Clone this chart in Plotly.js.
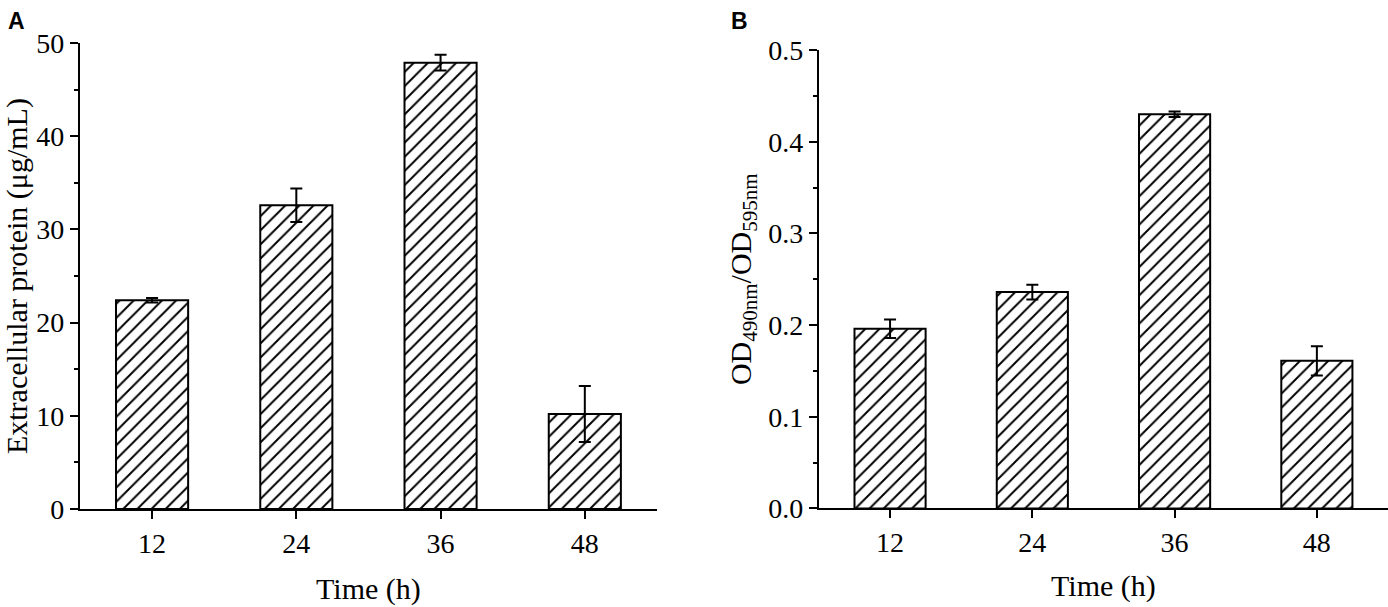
<!DOCTYPE html>
<html>
<head>
<meta charset="utf-8">
<script src="https://cdn.plot.ly/plotly-3.0.1.min.js"></script>
<style>
  html, body { margin: 0; padding: 0; background: #fff; }
  #chart { width: 1388px; height: 607px; }
</style>
</head>
<body>
<div id="chart"></div>
<script>
var times = ['12', '24', '36', '48'];

// panel A: extracellular protein (ug/mL)
var proteinVals = [22.4, 32.6, 47.9, 10.2];
var proteinErr = [0.25, 1.8, 0.85, 3.0];

// panel B: OD490/OD595
var odVals = [0.196, 0.236, 0.430, 0.161];
var odErr = [0.010, 0.008, 0.003, 0.016];

var serif = '"Liberation Serif", "Times New Roman", serif';

var hatch = {
    shape: '/',
    fgcolor: '#000',
    bgcolor: '#fff',
    size: 10,
    solidity: 0.2
};

var trace1 = {
    x: times,
    y: proteinVals,
    type: 'bar',
    width: 0.5,
    xaxis: 'x',
    yaxis: 'y',
    marker: {
        color: '#fff',
        pattern: hatch,
        line: { color: '#000', width: 2 }
    },
    error_y: {
        type: 'data',
        array: proteinErr,
        visible: true,
        color: '#000',
        thickness: 2,
        width: 6
    }
};

var trace2 = {
    x: times,
    y: odVals,
    type: 'bar',
    width: 0.5,
    xaxis: 'x2',
    yaxis: 'y2',
    marker: {
        color: '#fff',
        pattern: hatch,
        line: { color: '#000', width: 2 }
    },
    error_y: {
        type: 'data',
        array: odErr,
        visible: true,
        color: '#000',
        thickness: 2,
        width: 6
    }
};

var xCommon = {
    type: 'category',
    range: [-0.5, 3.5],
    showline: true,
    linecolor: '#000',
    linewidth: 2,
    ticks: 'outside',
    ticklen: 8,
    tickwidth: 2,
    tickcolor: '#000',
    showgrid: false,
    zeroline: false,
    tickfont: { family: serif, size: 28, color: '#000' },
    fixedrange: true
};

var yCommon = {
    showline: true,
    linecolor: '#000',
    linewidth: 2,
    ticks: 'outside',
    ticklen: 8,
    tickwidth: 2,
    tickcolor: '#000',
    showgrid: false,
    zeroline: false,
    tickfont: { family: serif, size: 28, color: '#000' },
    fixedrange: true
};

var layout = {
    width: 1388,
    height: 607,
    margin: { l: 0, r: 0, t: 0, b: 0 },
    paper_bgcolor: '#fff',
    plot_bgcolor: '#fff',
    showlegend: false,
    font: { family: serif, size: 28, color: '#000' },
    xaxis: Object.assign({}, xCommon, {
        domain: [0.0576, 0.4733],
        anchor: 'y',
        title: { text: 'Time (h)', standoff: 20, font: { family: serif, size: 30 } }
    }),
    yaxis: Object.assign({}, yCommon, {
        domain: [0.1614, 0.929],
        anchor: 'x',
        range: [0, 50],
        dtick: 10,
        minor: { dtick: 5, ticks: 'outside', ticklen: 4, tickwidth: 2, tickcolor: '#000', showgrid: false },
        title: { text: 'Extracellular protein (μg/mL)', standoff: 8, font: { family: serif, size: 30 } }
    }),
    xaxis2: Object.assign({}, xCommon, {
        domain: [0.590, 1.0],
        anchor: 'y2',
        title: { text: 'Time (h)', standoff: 18, font: { family: serif, size: 30 } }
    }),
    yaxis2: Object.assign({}, yCommon, {
        domain: [0.1623, 0.9176],
        anchor: 'x2',
        range: [0, 0.5],
        dtick: 0.1,
        tickformat: '.1f',
        minor: { dtick: 0.05, ticks: 'outside', ticklen: 4, tickwidth: 2, tickcolor: '#000', showgrid: false },
        title: { text: 'OD<sub>490nm</sub>/OD<sub>595nm</sub>', standoff: 8, font: { family: serif, size: 30 } }
    }),
    annotations: [
        {
            text: '<b>A</b>', xref: 'paper', yref: 'paper', x: 0.004, y: 0.99,
            xanchor: 'left', yanchor: 'top', showarrow: false,
            font: { family: '"Liberation Sans", Arial, sans-serif', size: 23, color: '#000' }
        },
        {
            text: '<b>B</b>', xref: 'paper', yref: 'paper', x: 0.525, y: 0.99,
            xanchor: 'left', yanchor: 'top', showarrow: false,
            font: { family: '"Liberation Sans", Arial, sans-serif', size: 23, color: '#000' }
        }
    ]
};

var config = { displayModeBar: false, staticPlot: true };

Plotly.newPlot('chart', [trace1, trace2], layout, config);
</script>
</body>
</html>
